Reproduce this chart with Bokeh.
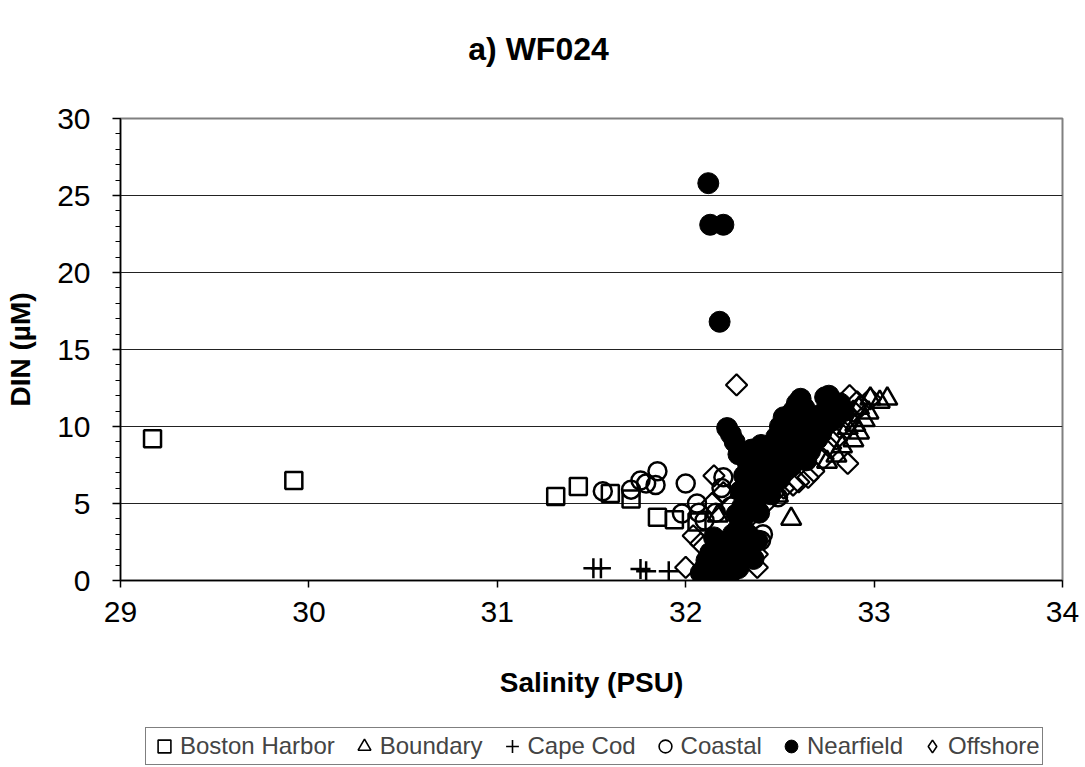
import numpy as np
from bokeh.plotting import figure
from bokeh.layouts import column
from bokeh.models import Legend, LegendItem, Label, FixedTicker, Range1d
from bokeh.embed import file_html
from bokeh.resources import INLINE

# ---------------- data ----------------
categories = ["Boston Harbor", "Boundary", "Cape Cod", "Coastal", "Nearfield", "Offshore"]

boston_sal = [29.17, 29.92, 31.31, 31.43, 31.60, 31.71, 31.85, 31.94, 32.06, 32.12]
boston_din = [9.2, 6.5, 5.45, 6.1, 5.65, 5.3, 4.1, 3.95, 3.8, 0.8]

boundary_sal = [32.98, 33.03, 33.07, 32.95, 32.92, 32.89, 32.80, 32.75, 32.56, 32.49,
                32.17, 32.92, 32.86, 32.83, 32.97, 32.90]
boundary_din = [11.8, 11.6, 11.8, 10.4, 9.6, 9.1, 8.1, 7.7, 4.0, 5.5,
                4.2, 11.2, 9.9, 8.7, 10.9, 10.1]

capecod_sal = [31.51, 31.55, 31.76, 31.79, 31.91]
capecod_din = [0.8, 0.8, 0.75, 0.6, 0.6]

coastal_sal = [31.56, 31.71, 31.76, 31.79, 31.85, 31.84, 32.00, 31.98, 32.06, 32.07,
               32.20, 32.19, 32.49, 32.41, 32.40, 32.10, 32.13, 32.24, 32.16]
coastal_din = [5.8, 5.9, 6.5, 6.3, 7.1, 6.2, 6.3, 4.35, 5.0, 4.4,
               6.7, 6.0, 5.4, 3.0, 2.6, 3.9, 1.2, 4.8, 4.4]

nearfield_sal = [32.12, 32.13, 32.20, 32.18,
                 32.08, 32.10, 32.12, 32.14, 32.16, 32.18, 32.20, 32.22, 32.13, 32.17,
                 32.21, 32.24, 32.26, 32.28, 32.30, 32.32, 32.34, 32.36, 32.25, 32.28,
                 32.30, 32.19, 32.24, 32.11, 32.15, 32.33, 32.38,
                 32.27, 32.30, 32.32, 32.29, 32.34, 32.31, 32.36, 32.33, 32.38, 32.35,
                 32.40, 32.42, 32.44, 32.40, 32.37, 32.39, 32.45, 32.47, 32.46, 32.26,
                 32.24, 32.22, 32.28,
                 32.48, 32.50, 32.52, 32.55, 32.57, 32.59, 32.61, 32.63, 32.60, 32.58,
                 32.54, 32.62, 32.66, 32.69, 32.72, 32.74, 32.76, 32.78, 32.80, 32.82,
                 32.84, 32.70, 32.66, 32.52, 32.56, 32.50, 32.58, 32.64, 32.72, 32.78]
nearfield_din = [25.8, 23.1, 23.1, 16.8,
                 0.5, 0.8, 0.4, 1.0, 0.6, 1.2, 0.9, 1.5, 1.8, 2.2,
                 2.5, 2.0, 1.2, 0.8, 1.6, 2.4, 2.0, 1.4, 3.0, 3.4,
                 3.9, 0.3, 0.5, 1.3, 2.8, 3.0, 2.6,
                 4.3, 4.8, 5.3, 5.8, 6.2, 6.8, 7.2, 7.6, 8.0, 8.5,
                 8.8, 7.8, 6.8, 6.0, 5.0, 4.4, 5.6, 7.3, 8.6, 9.0,
                 9.5, 9.9, 8.2,
                 9.3, 10.0, 10.6, 10.3, 11.0, 11.5, 11.8, 11.2, 10.2, 9.4,
                 8.9, 9.0, 9.6, 10.2, 10.8, 11.9, 12.0, 11.6, 11.2, 11.5,
                 11.0, 9.2, 8.4, 7.9, 7.4, 6.6, 8.2, 7.8, 9.6, 10.4]

offshore_sal = [32.27, 32.86, 32.87, 32.91, 32.89, 32.86, 32.82, 32.80, 32.77, 32.73,
                32.68, 32.65, 32.60, 32.57, 32.47, 32.15, 32.14, 32.04, 32.08, 32.00,
                32.38, 32.38, 32.98, 32.20, 32.44, 32.52, 32.33, 32.93]
offshore_din = [12.7, 7.6, 12.0, 11.6, 11.0, 10.5, 9.9, 9.2, 8.6, 7.9,
                7.1, 6.7, 6.4, 6.2, 5.7, 6.8, 5.0, 2.9, 2.4, 0.85,
                0.85, 1.7, 11.8, 5.7, 5.2, 6.0, 4.0, 11.3]

x_ticks = [29, 30, 31, 32, 33, 34]
y_ticks = [0, 5, 10, 15, 20, 25, 30]

title_text = "a)  WF024"
x_label = "Salinity (PSU)"
y_label = "DIN (µM)"

FONT = "Liberation Sans"
W = 1085
TITLE_H = 80
LEGEND_H = 55
MAIN_H = 767 - TITLE_H - LEGEND_H
FRAME_L, FRAME_R = 120, 1062   # frames of all strips are aligned by the column

# ---------------- title strip ----------------
tfig = figure(width=W, height=TITLE_H, x_range=Range1d(FRAME_L, FRAME_R), y_range=Range1d(0, TITLE_H),
              x_axis_type=None, y_axis_type=None, output_backend="svg", toolbar_location=None,
              min_border=0)
tfig.outline_line_color = None
tfig.background_fill_color = "white"
tfig.border_fill_color = "white"
tfig.add_layout(Label(x=W / 2, y=TITLE_H - 48, text=title_text, text_font=FONT,
                      text_font_size="32px", text_font_style="bold",
                      text_align="center", text_baseline="middle", text_color="black"))

# ---------------- main plot ----------------
p = figure(width=W, height=MAIN_H, x_range=Range1d(29, 34), y_range=Range1d(0, 30),
           output_backend="svg", toolbar_location=None,
           min_border_left=FRAME_L, min_border_right=W - FRAME_R, min_border_top=118 - TITLE_H,
           min_border_bottom=MAIN_H - (580 - TITLE_H))
p.background_fill_color = "white"
p.border_fill_color = "white"
p.outline_line_color = "#808080"
p.outline_line_width = 2

p.xgrid.visible = False
p.ygrid.ticker = FixedTicker(ticks=[5, 10, 15, 20, 25])
p.ygrid.grid_line_color = "#222222"
p.ygrid.grid_line_width = 1

p.xaxis.ticker = FixedTicker(ticks=x_ticks)
p.yaxis.ticker = FixedTicker(ticks=y_ticks, minor_ticks=list(range(0, 31)))

for ax in (p.xaxis[0], p.yaxis[0]):
    ax.axis_line_color = "black"
    ax.axis_line_width = 1.5
    ax.major_tick_line_color = "black"
    ax.major_tick_line_width = 1.5
    ax.minor_tick_line_color = "black"
    ax.minor_tick_line_width = 1
    ax.major_tick_in = 0
    ax.minor_tick_in = 0
    ax.major_label_text_font = FONT
    ax.major_label_text_font_size = "30px"
    ax.major_label_text_color = "black"
    ax.axis_label_text_font = FONT
    ax.axis_label_text_font_size = "28px"
    ax.axis_label_text_font_style = "bold"
    ax.axis_label_text_color = "black"

p.xaxis.major_tick_out = 7
p.xaxis.minor_tick_out = 0
p.xaxis.major_label_standoff = 14
p.xaxis.axis_label = x_label
p.xaxis.axis_label_standoff = 42

p.yaxis.major_tick_out = 8
p.yaxis.minor_tick_out = 5
p.yaxis.major_label_standoff = 22
p.yaxis.axis_label = y_label
p.yaxis.axis_label_standoff = 18

common = dict(fill_color=None, line_color="black", line_width=2.5)
p.scatter(boston_sal, boston_din, marker="square", size=17, **common)
p.scatter(boundary_sal, boundary_din, marker="triangle", size=20, **common)
p.scatter(capecod_sal, capecod_din, marker="cross", size=20, **common)
p.scatter(coastal_sal, coastal_din, marker="circle", size=18, **common)
p.scatter(nearfield_sal, nearfield_din, marker="circle", size=21,
          fill_color="black", line_color="black", line_width=1)
p.scatter(offshore_sal, offshore_din, marker="square", angle=np.pi / 4, size=15,
          fill_color=None, line_color="black", line_width=2.2)

# ---------------- legend strip ----------------
lfig = figure(width=W, height=LEGEND_H, x_range=Range1d(0, 1), y_range=Range1d(0, 1),
              x_axis_type=None, y_axis_type=None, output_backend="svg", toolbar_location=None,
              min_border=0)
lfig.outline_line_color = None
lfig.background_fill_color = "white"
lfig.border_fill_color = "white"

# proxy glyphs placed outside the visible range, only used for legend swatches
off = [-10]
lcommon = dict(fill_color=None, line_color="black", line_width=1.6)
leg_r = [
    lfig.scatter(off, off, marker="square", **lcommon),
    lfig.scatter(off, off, marker="triangle", **lcommon),
    lfig.scatter(off, off, marker="cross", **lcommon),
    lfig.scatter(off, off, marker="circle", **lcommon),
    lfig.scatter(off, off, marker="circle", fill_color="black", line_color="black", line_width=1),
    lfig.scatter(off, off, marker="diamond", **lcommon),
]
legend = Legend(items=[LegendItem(label=c, renderers=[r]) for c, r in zip(categories, leg_r)],
                location=(145 - FRAME_L, LEGEND_H - 17 - 36), orientation="horizontal",
                glyph_width=32, glyph_height=32, label_standoff=0, spacing=13,
                padding=2, margin=0,
                label_text_font=FONT, label_text_font_size="24px",
                border_line_color="black", border_line_width=1,
                background_fill_color="white", background_fill_alpha=1)
lfig.add_layout(legend, "center")

layout = column(tfig, p, lfig, spacing=0)
open("out.html", "w").write(file_html(layout, INLINE))
